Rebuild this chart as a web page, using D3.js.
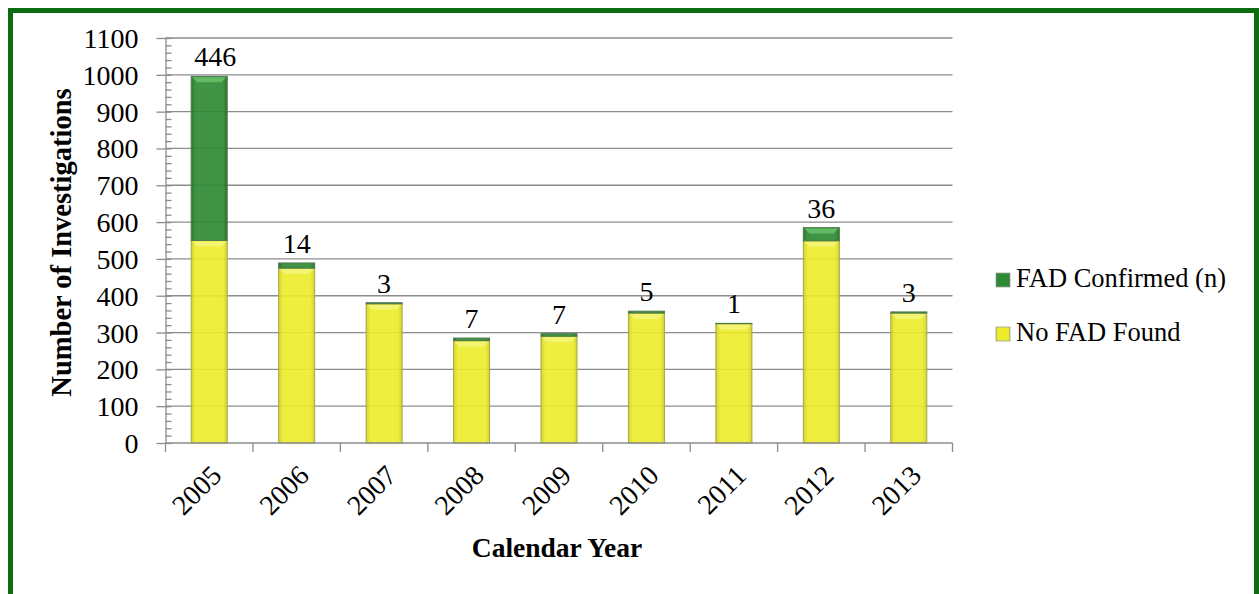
<!DOCTYPE html>
<html>
<head>
<meta charset="utf-8">
<script src="https://cdn.jsdelivr.net/npm/d3@7"></script>
<style>
  body { margin: 0; background: #fff; }
  svg { display: block; font-family: "Liberation Serif", "Times New Roman", serif; }
  .gridline { stroke: #8c8c8c; stroke-width: 1.3; }
  .axis path, .axis line { stroke: #8c8c8c; stroke-width: 1.3; }
  .axis text { font-family: "Liberation Serif", "Times New Roman", serif; font-size: 28px; fill: #000; }
</style>
</head>
<body>
<script>
"use strict";

// chart data
const years = ["2005", "2006", "2007", "2008", "2009", "2010", "2011", "2012", "2013"];
const noFadFound = [550, 475, 378, 278, 290, 353, 324, 549, 353];
const fadConfirmed = [446, 14, 3, 7, 7, 5, 1, 36, 3];
const yTicks = [0, 100, 200, 300, 400, 500, 600, 700, 800, 900, 1000, 1100];
const seriesNames = ["FAD Confirmed (n)", "No FAD Found"];

let width = 1259,
    height = 594,
    plotLeft = 165.5,
    plotRight = 952.5,
    plotTop = 38,
    plotBottom = 443;

let svg = d3.select("body")
    .append("svg")
    .attr("width", width)
    .attr("height", height);

let defs = svg.append("defs");

function barGradient(id, edge, mid) {
    let g = defs.append("linearGradient")
        .attr("id", id)
        .attr("x1", "0%").attr("y1", "0%")
        .attr("x2", "100%").attr("y2", "0%");
    g.append("stop").attr("offset", "0%").attr("stop-color", edge);
    g.append("stop").attr("offset", "12%").attr("stop-color", mid);
    g.append("stop").attr("offset", "88%").attr("stop-color", mid);
    g.append("stop").attr("offset", "100%").attr("stop-color", edge);
}
barGradient("grad-yellow", "#cfcf1c", "#ecec2a");
barGradient("grad-green", "#1f6a22", "#2f8a34");

// outer frame
svg.append("rect")
    .attr("x", 10.5)
    .attr("y", 10.5)
    .attr("width", 1246)
    .attr("height", 600)
    .attr("fill", "none")
    .attr("stroke", "#0d6b10")
    .attr("stroke-width", 5);

let x = d3.scaleBand()
    .domain(years)
    .range([plotLeft, plotRight])
    .paddingInner(0.588)
    .paddingOuter(0.294);

let y = d3.scaleLinear()
    .domain([0, 1100])
    .range([plotBottom, plotTop]);

// gridlines
svg.selectAll("line.gridline")
    .data(yTicks.slice(1))
    .enter().append("line")
    .attr("class", "gridline")
    .attr("x1", plotLeft)
    .attr("x2", plotRight)
    .attr("y1", d => y(d))
    .attr("y2", d => y(d));

// stacked bars
let stacked = years.map((yr, i) => ({
    year: yr,
    no: noFadFound[i],
    fad: fadConfirmed[i]
}));

let bars = svg.append("g").attr("class", "bars");

bars.selectAll("rect.no")
    .data(stacked)
    .enter().append("rect")
    .attr("x", d => x(d.year))
    .attr("width", x.bandwidth())
    .attr("y", d => y(d.no))
    .attr("height", d => y(0) - y(d.no))
    .attr("fill", "url(#grad-yellow)")
    .attr("fill-opacity", 0.9)
    .attr("stroke", "#a6a64a")
    .attr("stroke-width", 1);

bars.selectAll("rect.fad")
    .data(stacked)
    .enter().append("rect")
    .attr("x", d => x(d.year))
    .attr("width", x.bandwidth())
    .attr("y", d => y(d.no + d.fad))
    .attr("height", d => y(d.no) - y(d.no + d.fad))
    .attr("fill", "url(#grad-green)")
    .attr("fill-opacity", 0.92)
    .attr("stroke", "#4d7a4d")
    .attr("stroke-width", 1);

// light bevel at top of each segment
function bevel(d, top) {
    let x0 = x(d.year) + 1, x1 = x(d.year) + x.bandwidth() - 1;
    let t = y(top) + 1;
    return "M" + x0 + "," + t + "L" + x1 + "," + t +
        "L" + (x1 - 5) + "," + (t + 5) + "L" + (x0 + 5) + "," + (t + 5) + "Z";
}
bars.selectAll("path.bev-no")
    .data(stacked)
    .enter().append("path")
    .attr("d", d => bevel(d, d.no))
    .attr("fill", "#f6f68a")
    .attr("opacity", 0.7);

bars.selectAll("path.bev-fad")
    .data(stacked.filter(d => y(d.no) - y(d.no + d.fad) > 6))
    .enter().append("path")
    .attr("d", d => bevel(d, d.no + d.fad))
    .attr("fill", "#6cc46c")
    .attr("opacity", 0.8);

// data labels (confirmed counts)
svg.selectAll("text.value")
    .data(stacked)
    .enter().append("text")
    .attr("class", "value")
    .attr("x", d => x(d.year) + x.bandwidth() / 2 + (d.fad > 100 ? 6 : 0))
    .attr("y", d => y(d.no + d.fad) - 10)
    .attr("text-anchor", "middle")
    .attr("font-size", 28)
    .text(d => d.fad);

// y axis: major ticks outside, minor ticks inside
let yAxis = svg.append("g")
    .attr("class", "axis")
    .attr("transform", "translate(" + plotLeft + ",0)")
    .call(d3.axisLeft(y).tickValues(yTicks).tickFormat(d3.format("d"))
        .tickSize(9).tickPadding(18).tickSizeOuter(0));
yAxis.selectAll("text").attr("dy", "0.34em");

svg.append("g")
    .attr("class", "axis")
    .attr("transform", "translate(" + plotLeft + ",0)")
    .call(d3.axisRight(y).tickValues(d3.range(0, 1101, 20)).tickSize(6).tickFormat(""))
    .select(".domain").remove();

// x axis line and boundary ticks
let xAxis = svg.append("g").attr("class", "axis");
xAxis.append("line")
    .attr("x1", plotLeft).attr("x2", plotRight)
    .attr("y1", y(0)).attr("y2", y(0));
xAxis.selectAll("line.xt")
    .data(d3.range(years.length + 1))
    .enter().append("line")
    .attr("x1", i => plotLeft + i * x.step())
    .attr("x2", i => plotLeft + i * x.step())
    .attr("y1", y(0))
    .attr("y2", y(0) + 9);

xAxis.selectAll("text.year")
    .data(years)
    .enter().append("text")
    .attr("transform", d => "translate(" + (x(d) + x.bandwidth() / 2 + 14) + "," + 477 + ") rotate(-45)")
    .attr("text-anchor", "end")
    .text(d => d);

// axis titles
svg.append("text")
    .attr("transform", "translate(" + 71 + "," + ((plotTop + plotBottom) / 2 + 2) + ") rotate(-90)")
    .attr("text-anchor", "middle")
    .attr("font-size", 28.5)
    .attr("font-weight", "bold")
    .text("Number of Investigations");

svg.append("text")
    .attr("x", 557)
    .attr("y", 557)
    .attr("text-anchor", "middle")
    .attr("font-size", 27.5)
    .attr("font-weight", "bold")
    .text("Calendar Year");

// legend
let legend = svg.append("g").attr("transform", "translate(996,0)");
let legendFills = ["url(#grad-green)", "url(#grad-yellow)"];
let legendBase = [287, 341];
seriesNames.forEach(function (name, i) {
    legend.append("rect")
        .attr("x", 0)
        .attr("y", legendBase[i] - 14)
        .attr("width", 14)
        .attr("height", 14)
        .attr("fill", legendFills[i])
        .attr("stroke", "#a0a0a0")
        .attr("stroke-width", 0.8);
    legend.append("text")
        .attr("x", 20)
        .attr("y", legendBase[i])
        .attr("font-size", 26.5)
        .text(name);
});
</script>
</body>
</html>
